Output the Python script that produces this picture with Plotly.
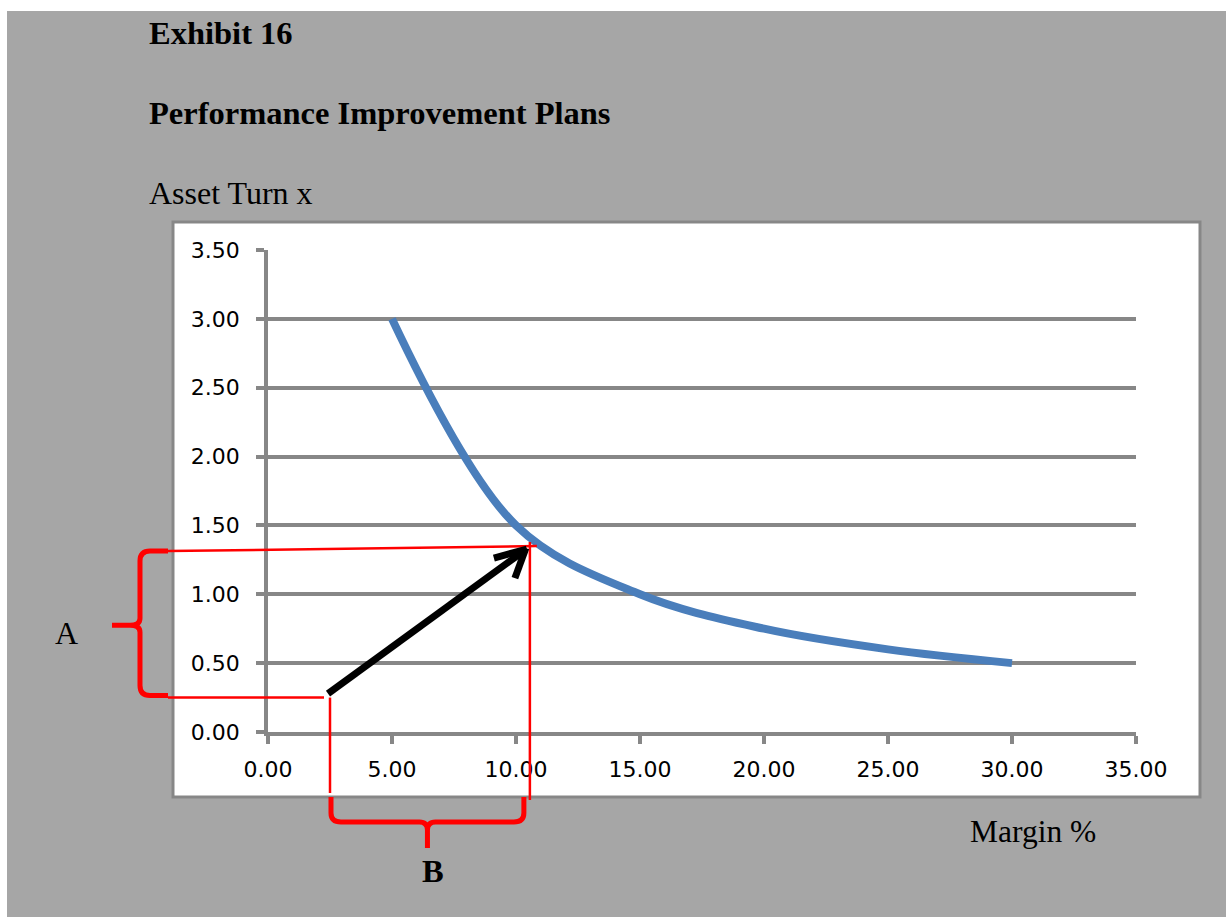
import plotly.graph_objects as go

# Profitability frontier: asset turn required at each margin level
margin_pct = [5, 10, 15, 20, 25, 30]
asset_turn = [3.00, 1.50, 1.00, 0.75, 0.60, 0.50]

x_ticks = [0, 5, 10, 15, 20, 25, 30, 35]
y_ticks = [0.0, 0.5, 1.0, 1.5, 2.0, 2.5, 3.0, 3.5]

# Current position and improvement target (margin %, asset turn)
current_pt = (2.5, 0.25)
target_pt = (10.6, 1.35)

FIG_W, FIG_H = 1226, 917
M_L, M_R, M_T, M_B = 268, 90, 250, 185
PW = FIG_W - M_L - M_R
PH = FIG_H - M_T - M_B
X_MAX, Y_MAX = 35, 3.5

GRID = "#878787"
RED = "#ff0000"
SERIF = "Liberation Serif"
SANS = "DejaVu Sans"


def paper(xp, yp):
    """Pixel position on the page -> paper coordinates."""
    return (xp - M_L) / PW, (M_T + PH - yp) / PH


def data_px(x, y):
    """Data value -> pixel position on the page."""
    return M_L + x / X_MAX * PW, M_T + PH - y / Y_MAX * PH


def path(points_cmds):
    out = []
    for cmd, pts in points_cmds:
        coords = " ".join("%.5f,%.5f" % paper(*p) for p in pts)
        out.append(cmd + " " + coords)
    return " ".join(out)


fig = go.Figure()
fig.add_trace(go.Scatter(
    x=margin_pct, y=asset_turn, mode="lines",
    line=dict(color="#4a7ebb", width=8, shape="spline", smoothing=1.0),
    hoverinfo="skip", showlegend=False,
))

shapes = []
# grey page panel and white chart box
x0, y0 = paper(7, 11)
x1, y1 = paper(FIG_W + 5, FIG_H + 5)
shapes.append(dict(type="rect", xref="paper", yref="paper", x0=x0, y0=y0, x1=x1, y1=y1,
                   fillcolor="#a6a6a6", line=dict(width=0), layer="below"))
x0, y0 = paper(173, 222)
x1, y1 = paper(1200, 797)
shapes.append(dict(type="rect", xref="paper", yref="paper", x0=x0, y0=y0, x1=x1, y1=y1,
                   fillcolor="white", line=dict(color=GRID, width=3), layer="below"))

cx, cy = data_px(*current_pt)
tx, ty = data_px(*target_pt)


def seg(a, b, color, width):
    (ax, ay), (bx, by) = paper(*a), paper(*b)
    return dict(type="line", xref="paper", yref="paper", x0=ax, y0=ay, x1=bx, y1=by,
                line=dict(color=color, width=width), layer="above")


# thin red guide lines
shapes.append(seg((168, ty + 5), (tx + 6, ty), RED, 2.5))
shapes.append(seg((tx - 1, ty - 4), (tx - 1, 800), RED, 2.5))
shapes.append(seg((168, cy), (cx - 6, cy), RED, 2.5))
shapes.append(seg((cx, cy), (cx, 793), RED, 2.5))

# brace A (vertical, tip pointing left)
top, bot, bx = ty + 5, cy - 2, 140
mid = (top + bot) / 2 + 2
brace_a = path([
    ("M", [(168, top)]), ("L", [(150, top)]), ("Q", [(bx, top), (bx, top + 10)]),
    ("L", [(bx, mid - 7)]), ("Q", [(bx, mid), (bx - 10, mid)]), ("L", [(112, mid)]),
    ("M", [(bx - 10, mid)]), ("Q", [(bx, mid), (bx, mid + 7)]),
    ("L", [(bx, bot - 10)]), ("Q", [(bx, bot), (150, bot)]), ("L", [(168, bot)]),
])
shapes.append(dict(type="path", xref="paper", yref="paper", path=brace_a,
                   line=dict(color=RED, width=5), fillcolor="rgba(0,0,0,0)", layer="above"))

# brace B (horizontal, tip pointing down)
lx, rx, by_ = cx + 1, tx - 7, 822
mx = (lx + rx) / 2
brace_b = path([
    ("M", [(lx, 797)]), ("L", [(lx, by_ - 9)]), ("Q", [(lx, by_), (lx + 10, by_)]),
    ("L", [(mx - 8, by_)]), ("Q", [(mx, by_), (mx, by_ + 8)]), ("L", [(mx, 848)]),
    ("M", [(mx, by_ + 8)]), ("Q", [(mx, by_), (mx + 8, by_)]),
    ("L", [(rx - 10, by_)]), ("Q", [(rx, by_), (rx, by_ - 9)]), ("L", [(rx, 797)]),
])
shapes.append(dict(type="path", xref="paper", yref="paper", path=brace_b,
                   line=dict(color=RED, width=5), fillcolor="rgba(0,0,0,0)", layer="above"))

# black improvement arrow with open chevron head
ax_, ay_ = cx - 2, cy - 4
hx, hy = tx - 6, ty + 4
shapes.append(seg((ax_, ay_), (hx - 4, hy + 3), "black", 7))
shapes.append(seg((hx - 31, hy + 8), (hx + 2, hy - 1), "black", 7))
shapes.append(seg((hx - 10, hy + 28), (hx + 1, hy - 2), "black", 7))

annotations = []


def label(text, xp, yp, size=32, bold=False, xanchor="left"):
    px_, py_ = paper(xp, yp)
    annotations.append(dict(
        text="<b>%s</b>" % text if bold else text, x=px_, y=py_, xref="paper", yref="paper",
        xanchor=xanchor, yanchor="middle", showarrow=False,
        font=dict(family=SERIF, size=size, color="black"),
    ))


label("Exhibit 16", 147, 33, size=32.5, bold=True)
label("Performance Improvement Plans", 147, 113, size=32.5, bold=True)
label("Asset Turn x", 147, 193)
label("Margin %", 968, 831, size=31.5)
label("A", 66, 633, xanchor="center")
label("B", 433, 871, size=32.5, bold=True, xanchor="center")

fig.update_layout(
    width=FIG_W, height=FIG_H,
    margin=dict(l=M_L, r=M_R, t=M_T, b=M_B, pad=0),
    paper_bgcolor="white", plot_bgcolor="rgba(0,0,0,0)",
    shapes=shapes, annotations=annotations,
    showlegend=False,
    xaxis=dict(
        range=[0, X_MAX], tickvals=x_ticks, tickformat=".2f",
        showgrid=False, zeroline=False,
        showline=True, linecolor=GRID, linewidth=3.5,
        ticks="outside", ticklen=8, tickwidth=3.5, tickcolor=GRID,
        tickfont=dict(family=SANS, size=22, color="black"),
        ticklabelstandoff=7, fixedrange=True,
    ),
    yaxis=dict(
        range=[0, Y_MAX], tickvals=y_ticks, tickformat=".2f",
        showgrid=True, gridcolor=GRID, gridwidth=3.5, zeroline=False,
        showline=True, linecolor=GRID, linewidth=3.5,
        ticks="outside", ticklen=8, tickwidth=3.5, tickcolor=GRID,
        tickfont=dict(family=SANS, size=22, color="black"),
        ticklabelstandoff=12, fixedrange=True,
    ),
)

fig.write_html("out.html")
